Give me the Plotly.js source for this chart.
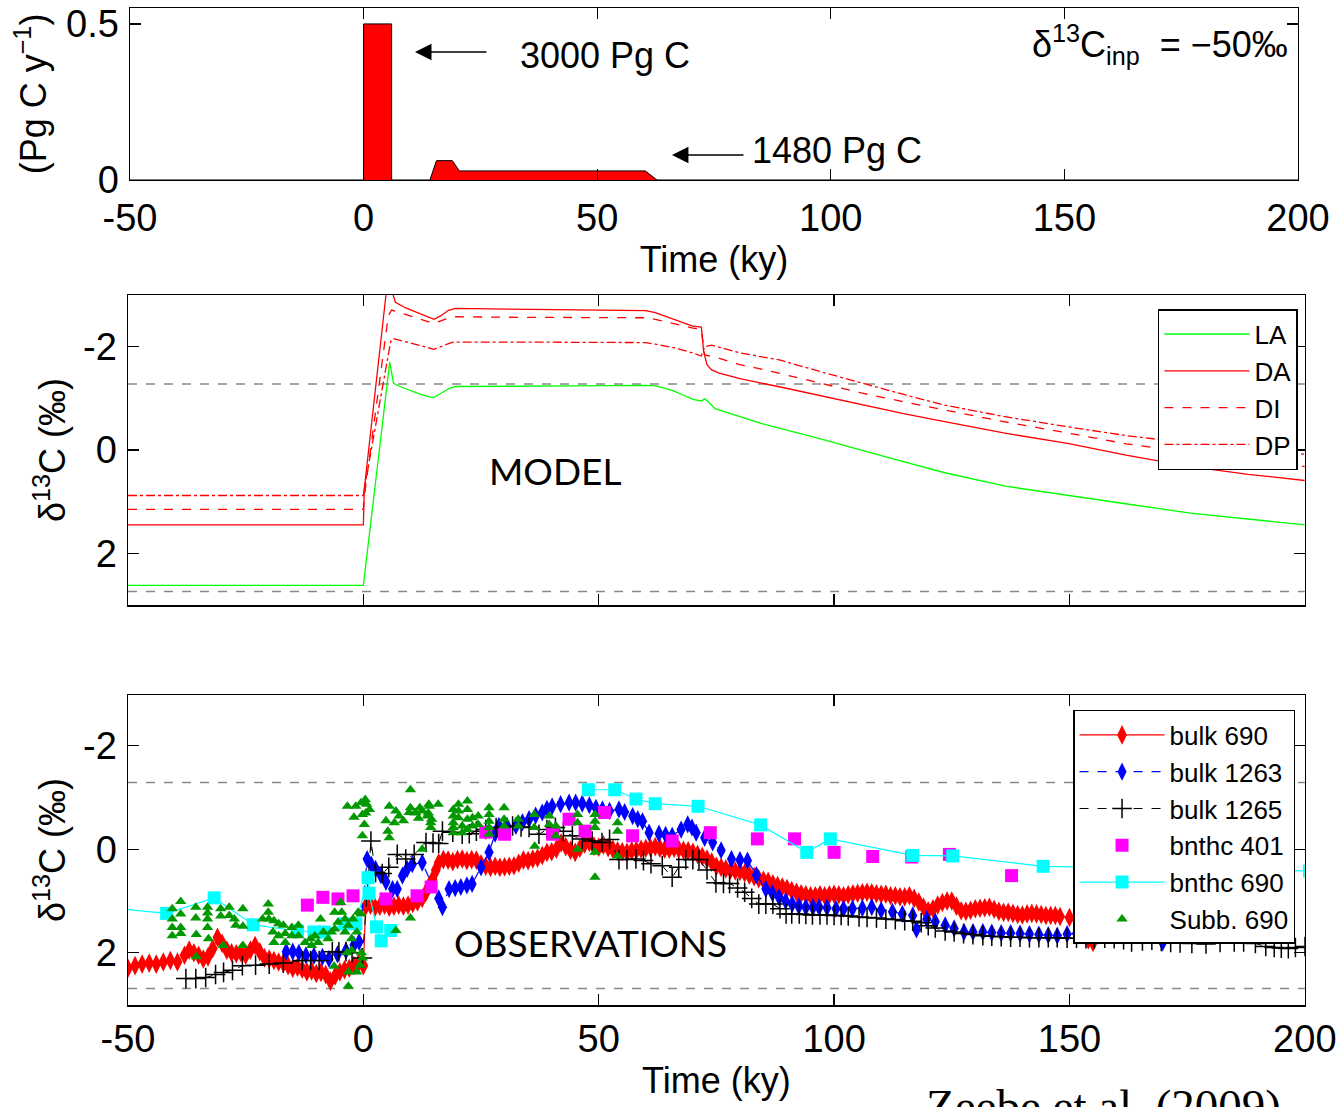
<!DOCTYPE html>
<html>
<head>
<meta charset="utf-8">
<script src="https://cdn.plot.ly/plotly-3.0.1.min.js"></script>
<style>html,body{margin:0;padding:0;background:#fff;}#chart{width:1344px;height:1107px;}</style>
</head>
<body>
<div id="chart"></div>
<script>
// ---------- tick labels ----------
const TIME_TICKS = [-50, 0, 50, 100, 150, 200];
const TIME_TICK_TEXT = ['-50', '0', '50', '100', '150', '200'];
const RATE_TICKS = [0, 0.5];
const RATE_TICK_TEXT = ['0', '0.5'];
const D13C_TICKS = [-2, 0, 2];
const D13C_TICK_TEXT = ['-2', '0', '2'];

// ---------- top panel: carbon input rate (Pg C / y) ----------
const inputT = [-50, 0, 0, 6, 6, 14.2, 15.6, 19.0, 20.5, 60.3, 62.8, 200];
const inputRate = [0, 0, 0.5, 0.5, 0, 0, 0.062, 0.062, 0.029, 0.029, 0, 0];

// ---------- middle panel: MODEL d13C ----------
const laT = [-50, 0, 5.6, 6.4, 8, 10, 12, 14, 15, 16.5, 18, 19.5, 30, 45, 60, 62, 64, 66, 68, 70, 71.8, 72.5, 73, 74.7, 84.3, 97.3, 110.4, 123.5, 136.4, 149.6, 162.6, 175.7, 188.7, 200];
const laV = [2.62, 2.62, -1.7, -1.29, -1.22, -1.15, -1.08, -1.03, -1.02, -1.1, -1.18, -1.23, -1.23, -1.24, -1.25, -1.24, -1.2, -1.14, -1.06, -0.98, -0.95, -0.99, -0.96, -0.8, -0.52, -0.21, 0.12, 0.44, 0.7, 0.88, 1.05, 1.22, 1.35, 1.45];

const daT = [-50, 0, 0.2, 4.8, 5.5, 6.4, 6.8, 9, 11, 13, 15, 16.5, 18, 19.5, 30, 40, 50, 58, 60, 62, 64, 66, 68, 70, 71.8, 72.3, 73, 74, 75.6, 80, 88.6, 97, 106, 115, 123.5, 136, 149.6, 162, 175.7, 188, 200];
const daV = [1.45, 1.45, 0.75, -3.0, -3.25, -3.0, -2.86, -2.75, -2.68, -2.6, -2.53, -2.6, -2.7, -2.74, -2.73, -2.72, -2.72, -2.71, -2.7, -2.66, -2.6, -2.53, -2.46, -2.4, -2.38, -1.9, -1.65, -1.55, -1.49, -1.38, -1.22, -1.05, -0.87, -0.7, -0.55, -0.33, -0.13, 0.1, 0.32, 0.47, 0.59];

const diT = [-50, 0, 0.2, 5.3, 6, 8, 10, 12, 15, 17, 19, 30, 50, 60, 62, 66, 70, 71.8, 72.5, 74.7, 79.7, 85.4, 88.6, 97, 106, 115, 123.5, 136, 149.6, 162, 175.7, 188, 200];
const diV = [1.15, 1.15, 0.9, -2.6, -2.71, -2.65, -2.6, -2.53, -2.45, -2.52, -2.58, -2.57, -2.57, -2.56, -2.53, -2.45, -2.36, -2.34, -1.84, -1.8, -1.66, -1.55, -1.48, -1.3, -1.1, -0.93, -0.78, -0.55, -0.33, -0.12, 0.05, 0.19, 0.32];

const dpT = [-50, 0, 0.3, 5.8, 6.3, 8, 10, 12, 15, 17, 19, 30, 50, 60, 62, 66, 70, 71.8, 72.5, 74, 80, 88.6, 97, 106, 115, 123.5, 136, 149.6, 162, 175.7, 188, 200];
const dpV = [0.88, 0.88, 0.7, -2.1, -2.16, -2.12, -2.07, -2.02, -1.95, -2.02, -2.09, -2.09, -2.09, -2.08, -2.05, -1.98, -1.88, -1.82, -2.0, -2.03, -1.88, -1.74, -1.52, -1.29, -1.07, -0.87, -0.65, -0.45, -0.28, -0.13, -0.02, 0.08];

const modelRefLevels = [-1.28, 2.74];
const obsRefLevels = [-1.29, 2.69];

// ---------- bottom panel: OBSERVATIONS ----------
const bulk690T = [-50, -48.5, -47, -45.5, -44, -42.5, -41, -39.5, -38, -37, -36, -35, -34, -33, -32, -31, -30, -29, -28, -27, -26, -25, -24, -23, -22, -21, -20, -19, -18, -17, -16, -15, -14, -13, -12, -11, -10, -9, -8, -7, -6, -5, -4, -3, -2, -1, 0,
  0.5, 1.5, 2.5, 3.5, 4.5, 5.5, 6.5, 7.5, 8.5, 9.5, 10.5, 11.5, 12.5, 13.3, 14, 14.7, 15.4, 16,
  17, 18, 19, 20, 21, 22, 23, 24, 25, 26, 27, 28, 29, 30, 31, 32, 33, 34, 35, 36, 37, 38, 39, 40, 41, 42, 43, 44, 45, 46, 47, 48, 49, 50,
  51, 52, 53, 54, 55, 56, 57, 58, 59, 60, 61, 62, 63, 64, 65, 66, 67, 68, 69, 70, 71, 72, 73, 74, 75, 76, 77, 78, 79, 80, 81, 82, 83, 84, 85, 86, 87, 88, 89, 90,
  91, 92, 93, 94, 95, 96, 97, 98, 99, 100, 101, 102, 103, 104, 105, 106, 107, 108, 109, 110, 111, 112, 113, 114, 115, 116, 117, 118, 119, 120,
  121, 122, 123, 124, 125, 126, 127, 128, 129, 130, 131, 132, 133, 134, 135, 136, 137, 138, 139, 140, 141, 142, 143, 144, 145, 146, 147, 148, 150, 152, 153, 154, 155];
const bulk690V = [2.3, 2.25, 2.22, 2.2, 2.22, 2.18, 2.15, 2.18, 2.05, 1.95, 2.0, 2.05, 2.12, 2.08, 1.92, 1.7, 1.82, 1.95, 2.0, 2.02, 2.0, 2.05, 1.95, 1.86, 1.98, 2.1, 2.12, 2.15, 2.18, 2.2, 2.25, 2.3, 2.28, 2.32, 2.37, 2.35, 2.4, 2.38, 2.42, 2.55, 2.45, 2.37, 2.33, 2.3, 2.25, 2.2, 2.25,
  1.1, 1.08, 1.12, 1.1, 1.08, 1.12, 1.1, 1.08, 1.1, 1.08, 1.05, 1.02, 0.95, 0.83, 0.7, 0.58, 0.4, 0.26,
  0.2, 0.21, 0.24, 0.2, 0.19, 0.22, 0.2, 0.21, 0.28, 0.33, 0.35, 0.33, 0.35, 0.34, 0.33, 0.32, 0.27, 0.21, 0.22, 0.19, 0.17, 0.12, 0.06, 0.05, 0.0, -0.12, -0.05, 0.02, 0.06, -0.02, -0.1, -0.13, -0.06, -0.04,
  -0.08, -0.03, 0.0, 0.03, 0.05, 0.06, 0.03, 0.02, 0.0, -0.02, -0.03, -0.05, -0.02, 0.0, 0.0, -0.02, 0.0, 0.02, 0.03, 0.06, 0.1, 0.14, 0.19, 0.25, 0.33, 0.35, 0.38, 0.4, 0.42, 0.43, 0.46, 0.5, 0.53, 0.57, 0.6, 0.62, 0.67, 0.7, 0.73, 0.76,
  0.8, 0.83, 0.86, 0.88, 0.9, 0.9, 0.88, 0.9, 0.88, 0.87, 0.88, 0.9, 0.88, 0.86, 0.85, 0.84, 0.83, 0.84, 0.86, 0.87, 0.87, 0.9, 0.9, 0.92, 0.92, 0.9, 0.95, 1.02, 1.12, 1.19,
  1.15, 1.08, 1.03, 1.0, 1.0, 1.1, 1.19, 1.2, 1.18, 1.15, 1.14, 1.13, 1.12, 1.16, 1.2, 1.22, 1.22, 1.24, 1.26, 1.27, 1.25, 1.24, 1.25, 1.26, 1.28, 1.28, 1.28, 1.3, 1.32, 1.5, 1.65, 1.75, 1.8];

const bulk1263T = [-16.4, -15, -13.7, -12.2, -10.5, -8.7, -7.3, -5.5, -3.7, -2, -0.9, 0.8, 1.7, 2.6, 3.7, 4.8, 6.2, 7.2, 8.3, 9.3, 10.4, 12.5, 16, 16.8, 18.2, 19.5, 20.7, 22, 23.1, 25, 26.7, 28, 28.8, 30.5, 32.4, 33.8, 35.2, 36.6, 38, 39, 40.1, 41.9, 43.7, 45.1, 46.5, 48, 49.4, 50.8, 52.3, 54.3, 55.5, 57.2, 58.3, 59.3, 60.7, 62.8, 64.2, 65.6, 67.5, 68.9, 69.8, 70.7, 72.5, 74.2, 76, 78.2, 80, 81.6, 83.5, 85.5, 86.9, 88.3, 89.7, 91.1, 92.5, 94, 95.5, 96.8, 98.5, 100.4, 102, 103.9, 106, 108, 110, 112.4, 114.5, 116.7, 117.5, 119.7, 121.5, 123.6, 125.5, 127.6, 129.5, 131.6, 133.5, 135.5, 137.5, 139.5, 141.5, 143.5, 145.5, 147.4, 149.5, 151.5, 153.5, 155.5, 157.5, 159.5, 161.5, 163.5, 165.5, 167.5, 169.8];
const bulk1263V = [1.98, 1.98, 2.0, 2.05, 2.06, 2.08, 2.12, 2.03, 1.96, 1.85, 1.79, 0.19, 0.3, 0.38, 0.5, 0.63, 0.77, 0.77, 0.51, 0.38, 0.29, 0.26, 0.95, 1.12, 0.77, 0.75, 0.73, 0.7, 0.67, 0.35, 0.06, -0.3, -0.45, -0.45, -0.45, -0.52, -0.58, -0.65, -0.71, -0.78, -0.83, -0.87, -0.9, -0.9, -0.88, -0.85, -0.8, -0.77, -0.74, -0.77, -0.72, -0.64, -0.58, -0.54, -0.32, -0.3, -0.28, -0.26, -0.38, -0.48, -0.42, -0.32, -0.22, -0.13, 0.02, 0.19, 0.21, 0.22, 0.5, 0.77, 0.85, 0.93, 1.0, 1.06, 1.1, 1.12, 1.12, 1.12, 1.13, 1.15, 1.15, 1.15, 1.14, 1.12, 1.18, 1.21, 1.25, 1.28, 1.55, 1.35, 1.4, 1.47, 1.53, 1.6, 1.6, 1.6, 1.61, 1.62, 1.62, 1.63, 1.64, 1.65, 1.66, 1.67, 1.64, 1.63, 1.64, 1.63, 1.64, 1.63, 1.63, 1.62, 1.63, 1.65, 1.8];

const bulk1265T = [-37.7, -35.6, -33.5, -31.4, -29.7, -27.8, -25.7, -22.9, -20, -17, -13, -11.2, -9.4, -6.6, -5.2, -3.7, -2.4, -0.2, 1.6, 2.6, 4, 5.4, 7.2, 9, 10.8, 13.3, 14.8, 16, 16.8, 19, 21, 22.5, 24, 26, 28.2, 30, 31.7, 33.5, 35.2, 37.3, 39, 40.8, 42.5, 44.4, 46.5, 48.6, 50.7, 52.3, 54.3, 56, 57.9, 59.5, 61.1, 63.5, 65.6, 67, 68.5, 70, 71.3, 73, 74.9, 76.5, 77.8, 79.5, 81, 82.5, 84, 85.5, 87, 88.5, 89.8, 91, 92.6, 94, 95.4, 97, 98.5, 100, 101.5, 103, 105.3, 107, 109, 111, 113, 115, 116.7, 118.5, 120, 121.5, 123.6, 125.5, 127.5, 129.5, 131.6, 133.5, 135.5, 137.5, 139.5, 141.5, 143.5, 145.5, 147.4, 149.5, 151.5, 153.5, 155.3, 157.5, 159.5, 161.5, 163.2, 165.5, 167.5, 169.5, 171.5, 173.5, 176, 179, 182, 185, 187, 189.5, 191.7, 193.5, 195, 196.5, 198, 200];
const bulk1265V = [2.5, 2.5, 2.48, 2.42, 2.38, 2.34, 2.25, 2.24, 2.22, 2.2, 2.15, 2.15, 2.15, 1.98, 1.98, 1.98, 2.0, 2.1, -0.16, 0.45, 0.47, 0.35, 0.1, 0.19, 0.1, -0.13, -0.12, -0.11, -0.35, -0.33, -0.29, -0.3, -0.35, -0.38, -0.42, -0.43, -0.45, -0.43, -0.42, -0.29, -0.38, -0.42, -0.35, -0.26, -0.2, -0.16, -0.13, -0.19, 0.2, 0.2, 0.19, 0.22, 0.28, 0.32, 0.54, 0.35, 0.2, 0.2, 0.2, 0.4, 0.65, 0.66, 0.66, 0.75, 0.83, 0.95, 1.06, 1.06, 1.06, 1.15, 1.25, 1.25, 1.25, 1.26, 1.27, 1.27, 1.27, 1.28, 1.28, 1.29, 1.31, 1.32, 1.33, 1.35, 1.36, 1.38, 1.39, 1.42, 1.48, 1.52, 1.58, 1.6, 1.63, 1.65, 1.67, 1.68, 1.69, 1.7, 1.7, 1.71, 1.71, 1.71, 1.71, 1.72, 1.72, 1.73, 1.73, 1.72, 1.73, 1.75, 1.79, 1.77, 1.76, 1.78, 1.8, 1.81, 1.82, 1.83, 1.8, 1.79, 1.79, 1.82, 1.88, 1.9, 1.91, 1.92, 1.9, 1.88];

const bnthc401T = [-11.9, -8.6, -5.4, -2.2, 4.8, 11.4, 14.4, 26, 30, 40.2, 43.7, 47.1, 51.2, 57.2, 65.6, 73.7, 83.7, 91.6, 100, 108.2, 116.5, 124.5, 137.7];
const bnthc401V = [1.08, 0.93, 0.96, 0.9, 0.96, 0.9, 0.73, -0.33, -0.29, -0.29, -0.58, -0.35, -0.71, -0.26, -0.16, -0.32, -0.2, -0.2, 0.06, 0.14, 0.15, 0.1, 0.51];

const bnthc690T = [-55, -41.8, -31.7, -23.4, -14, -10.5, -8.3, -4, -1.6, 1.0, 1.2, 2.8, 3.8, 5.8, 20, 47.8, 53.4, 57.9, 62, 71.1, 84.4, 94.2, 99.2, 116.7, 125.2, 144.4, 201];
const bnthc690V = [1.12, 1.24, 0.94, 1.46, 1.58, 1.6, 1.6, 1.44, 1.44, 0.55, 0.85, 1.5, 1.77, 1.57, null, -1.15, -1.15, -0.97, -0.88, -0.83, -0.47, 0.06, -0.2, 0.12, 0.13, 0.33, 0.42];

const subb690T = [-40.6, -38.8, -40.6, -38.8, -40.6, -38.8, -40.6, -38.8, -35.6, -35.6, -35.5, -35.5, -33.1, -33.1, -33.1, -33.1, -32.9, -30.3, -28.5, -30.3, -28.5, -27.4, -25.6, -27.1, -25.6, -29.8, -25.6,
  -20.2, -20.2, -21.4, -20.1, -19.0, -18.0, -17.0, -19.2, -18.0, -16.6, -19.0, -16.6, -15.2, -15.2, -13.8, -13.8, -12.4, -11.2, -9.1, -11.0, -10.3, -9.6, -8.5, -7.5, -6.8, -6.1, -5.4, -4.8, -6.1, -4.6, -3.9, -3.9, -3.2, -2.5, -2.2, -1.4, -1.1,
  -6.2, -3.2, -1.4, -3.2, -0.7, -3.5, -0.4, -0.5, -0.2, -2.5,
  -3.4, -1.6, -0.5, 0.4, 0.7, 1.3, -0.2, 0.2, -0.2, 5.5, 6.9, 7.6, 4.8, 6.6, 8.5, 5.2, 5.5, 10.0, 10.0, 11.1, 9.7, 12.5, 13.9, 15.9, 13.6, 14.3, 14.3, 12.5,
  20.2, 20.2, 20.2, 22.1, 22.1, 22.1, 22.1, 24.4, 24.4, 19.1, 19.1, 19.1, 19.1, 19.1, 21.0, 21.0, 23.2, 23.2, 26.7, 26.7, 26.7, 26.7, 26.7, 29.9, 29.9, 29.9, 32.9, 32.9,
  36.3, 36.3, 36.4, 39.5, 39.5, 40.9, 40.9, 45.5, 45.5, 45.5, 49.2, 49.2, 49.2, 49.2, 49.2, 54.0, 54.0, 54.0, 6.9, 10.0, 14.0, 13.8, 14.5, 12.0, 11.0, 11.7, -2.0, 0.5];
const subb690V = [1.15, 1.01, 1.35, 1.25, 1.51, 1.51, 1.67, 1.63, 1.12, 1.33, 1.65, 2.08, 1.12, 1.23, 1.35, 1.51, 1.73, 1.15, 1.12, 1.29, 1.28, 1.35, 1.15, 1.47, 1.49, 1.86, 1.86,
  1.06, 1.22, 1.35, 1.35, 1.38, 1.44, 1.47, 1.6, 1.67, 1.63, 1.8, 1.8, 1.51, 1.67, 1.47, 1.67, 1.8, 1.73, 1.35, 1.86, 1.67, 1.8, 1.6, 1.73, 1.6, 1.54, 1.41, 1.03, 1.22, 1.22, 1.35, 1.6, 1.47, 1.73, 1.35, 1.6, 1.22,
  2.26, 2.37, 2.37, 2.65, 2.24, 2.0, 2.0, 1.25, 2.1, 1.95,
  -0.83, -0.83, -0.9, -0.96, -0.87, -0.77, -0.67, -0.48, -0.26, -0.83, -0.74, -0.64, -0.55, -0.51, -0.55, -0.35, -0.22, -1.15, -0.8, -0.71, -0.71, -0.74, -0.87, -0.87, -0.64, -0.51, -0.42, 0.0,
  -0.87, -0.74, -0.61, -0.93, -0.77, -0.58, -0.38, -0.64, -0.48, -0.77, -0.64, -0.51, -0.42, -0.32, -0.45, -0.32, -0.61, -0.45, -0.8, -0.67, -0.54, -0.42, -0.29, -0.8, -0.58, -0.45, -0.58, -0.45,
  -0.67, -0.42, -0.06, -0.64, -0.48, -0.45, -0.26, -0.67, -0.51, 0.0, -0.67, -0.54, -0.42, 0.06, 0.54, -0.51, -0.35, 0.13, 1.57, 1.33, -0.83, -0.7, -0.58, -0.8, -0.7, -0.6, -0.62, -0.7];

// ---------- traces ----------
const traces = [
  {x: inputT, y: inputRate, xaxis: 'x', yaxis: 'y', mode: 'lines', fill: 'tozeroy', fillcolor: '#ff0000',
   line: {color: '#000000', width: 1}, showlegend: false, hoverinfo: 'skip'},

  {x: laT, y: laV, xaxis: 'x2', yaxis: 'y2', mode: 'lines', name: 'LA', legend: 'legend', line: {color: '#00ff00', width: 1.3}},
  {x: daT, y: daV, xaxis: 'x2', yaxis: 'y2', mode: 'lines', name: 'DA', legend: 'legend', line: {color: '#ff0000', width: 1.3}},
  {x: diT, y: diV, xaxis: 'x2', yaxis: 'y2', mode: 'lines', name: 'DI', legend: 'legend', line: {color: '#ff0000', width: 1.3, dash: 'dash'}},
  {x: dpT, y: dpV, xaxis: 'x2', yaxis: 'y2', mode: 'lines', name: 'DP', legend: 'legend', line: {color: '#ff0000', width: 1.3, dash: 'dashdot'}},

  {x: bulk690T, y: bulk690V, xaxis: 'x3', yaxis: 'y3', mode: 'lines+markers', name: 'bulk 690', legend: 'legend2',
   line: {color: '#ff0000', width: 1.2}, marker: {symbol: 'diamond-tall', size: 14, color: '#ff0000'}},
  {x: bulk1263T, y: bulk1263V, xaxis: 'x3', yaxis: 'y3', mode: 'lines+markers', name: 'bulk 1263', legend: 'legend2',
   line: {color: '#0000ff', width: 1.2, dash: 'dash'}, marker: {symbol: 'diamond-tall', size: 13, color: '#0000ff'}},
  {x: bulk1265T, y: bulk1265V, xaxis: 'x3', yaxis: 'y3', mode: 'lines+markers', name: 'bulk 1265', legend: 'legend2',
   line: {color: '#000000', width: 1, dash: 'dash'}, marker: {symbol: 'cross-thin-open', size: 14, color: '#000000', line: {color: '#000000', width: 1.5}}},
  {x: bnthc401T, y: bnthc401V, xaxis: 'x3', yaxis: 'y3', mode: 'markers', name: 'bnthc 401', legend: 'legend2',
   marker: {symbol: 'square', size: 13, color: '#ff00ff'}},
  {x: bnthc690T, y: bnthc690V, xaxis: 'x3', yaxis: 'y3', mode: 'lines+markers', name: 'bnthc 690', legend: 'legend2', connectgaps: false,
   line: {color: '#00ffff', width: 1.2}, marker: {symbol: 'square', size: 13, color: '#00ffff'}},
  {x: subb690T, y: subb690V, xaxis: 'x3', yaxis: 'y3', mode: 'markers', name: 'Subb. 690', legend: 'legend2',
   marker: {symbol: 'triangle-up', size: 10, color: '#009900'}}
];

// ---------- layout ----------
const FONT = 'Liberation Sans, Arial, Helvetica, sans-serif';
function xAxis(domain, anchor, showLabels, title, labelStandoff) {
  const ax = {
    domain: domain, anchor: anchor, range: [-50, 200],
    tickmode: 'array', tickvals: TIME_TICKS, ticktext: TIME_TICK_TEXT,
    showticklabels: showLabels, ticks: 'inside', ticklen: 11, tickwidth: 1.2, tickcolor: '#000',
    ticklabelstandoff: labelStandoff,
    showline: true, linecolor: '#000', linewidth: 1.5, mirror: 'ticks',
    showgrid: false, zeroline: false,
    tickfont: {family: FONT, size: 38, color: '#000'}
  };
  if (title) ax.title = {text: title, font: {family: FONT, size: 36, color: '#000'}, standoff: 8};
  return ax;
}
function yAxis(domain, anchor, range, vals, text, title, standoff) {
  return {
    domain: domain, anchor: anchor, range: range,
    tickmode: 'array', tickvals: vals, ticktext: text,
    ticks: 'inside', ticklen: 11, tickwidth: 1.2, tickcolor: '#000',
    ticklabelstandoff: 2,
    showline: true, linecolor: '#000', linewidth: 1.5, mirror: 'ticks',
    showgrid: false, zeroline: false,
    tickfont: {family: FONT, size: 38, color: '#000'},
    title: {text: title, font: {family: FONT, size: 36, color: '#000'}, standoff: standoff}
  };
}

const refShapes = [];
modelRefLevels.forEach(v => refShapes.push({type: 'line', xref: 'x2 domain', yref: 'y2', x0: 0, x1: 1, y0: v, y1: v,
  line: {color: '#888888', width: 1.5, dash: 'dash'}, layer: 'below'}));
obsRefLevels.forEach(v => refShapes.push({type: 'line', xref: 'x3 domain', yref: 'y3', x0: 0, x1: 1, y0: v, y1: v,
  line: {color: '#888888', width: 1.5, dash: 'dash'}, layer: 'below'}));

const layout = {
  width: 1344, height: 1107,
  margin: {l: 128, r: 38, t: 8, b: 102},
  paper_bgcolor: '#ffffff', plot_bgcolor: '#ffffff',
  font: {family: FONT, size: 36, color: '#000'},
  xaxis: xAxis([0.0017, 0.9932], 'y', true, 'Time (ky)', 4),
  yaxis: yAxis([0.8275, 1.0], 'x', [0, 0.551], RATE_TICKS, RATE_TICK_TEXT, '(Pg C y<sup>−1</sup>)', 8),
  xaxis2: xAxis([0, 0.999], 'y2', false, '', 0),
  yaxis2: yAxis([0.4012, 0.7121], 'x2', [3.0, -3.0], D13C_TICKS, D13C_TICK_TEXT, 'δ<sup>13</sup>C (‰)', 6),
  xaxis3: xAxis([0, 0.999], 'y3', true, 'Time (ky)', 0),
  yaxis3: yAxis([0, 0.3109], 'x3', [3.01, -2.98], D13C_TICKS, D13C_TICK_TEXT, 'δ<sup>13</sup>C (‰)', 6),
  shapes: refShapes,
  legend: {x: 0.9932, y: 0.698, xanchor: 'right', yanchor: 'top', bgcolor: '#ffffff', bordercolor: '#000', borderwidth: 1.5,
           font: {family: FONT, size: 26, color: '#000'}, itemwidth: 85, tracegroupgap: 0},
  legend2: {x: 0.9907, y: 0.2959, xanchor: 'right', yanchor: 'top', bgcolor: '#ffffff', bordercolor: '#000', borderwidth: 1.5,
            font: {family: FONT, size: 26, color: '#000'}, itemwidth: 85, tracegroupgap: 0},
  annotations: [
    {xref: 'x', yref: 'y', x: 11.0, y: 0.41, axref: 'x', ayref: 'y', ax: 27.7, ay: 0.41, text: ' ', showarrow: true,
     arrowhead: 2, arrowsize: 2.2, arrowwidth: 1.5, arrowcolor: '#000'},
    {xref: 'x', yref: 'y', x: 33.0, y: 0.40, xanchor: 'left', yanchor: 'middle', text: '3000 Pg C', showarrow: false,
     font: {family: FONT, size: 36, color: '#000'}},
    {xref: 'x', yref: 'y', x: 66.0, y: 0.08, axref: 'x', ayref: 'y', ax: 82.7, ay: 0.08, text: ' ', showarrow: true,
     arrowhead: 2, arrowsize: 2.2, arrowwidth: 1.5, arrowcolor: '#000'},
    {xref: 'x', yref: 'y', x: 82.8, y: 0.096, xanchor: 'left', yanchor: 'middle', text: '1480 Pg C', showarrow: false,
     font: {family: FONT, size: 36, color: '#000'}},
    {xref: 'x', yref: 'y', x: 198.3, y: 0.433, xanchor: 'right', yanchor: 'middle',
     text: 'δ<sup>13</sup>C<sub>inp</sub>\u00a0\u00a0= −50‰', showarrow: false, font: {family: FONT, size: 36, color: '#000'}},
    {xref: 'x2', yref: 'y2', x: 40.8, y: 0.4, text: 'MODEL', showarrow: false,
     font: {family: 'Lato, Open Sans, sans-serif', size: 37, color: '#000'}},
    {xref: 'x3', yref: 'y3', x: 48.3, y: 1.81, text: 'OBSERVATIONS', showarrow: false,
     font: {family: 'Lato, Open Sans, sans-serif', size: 37, color: '#000'}},
    {xref: 'paper', yref: 'paper', x: 0.8277, y: -0.1013, xanchor: 'center', yanchor: 'middle', text: 'Zeebe et al. (2009)', showarrow: false,
     font: {family: 'Liberation Serif, Times New Roman, serif', size: 47, color: '#000'}}
  ]
};

Plotly.newPlot('chart', traces, layout, {displayModeBar: false, staticPlot: true});
</script>
</body>
</html>
